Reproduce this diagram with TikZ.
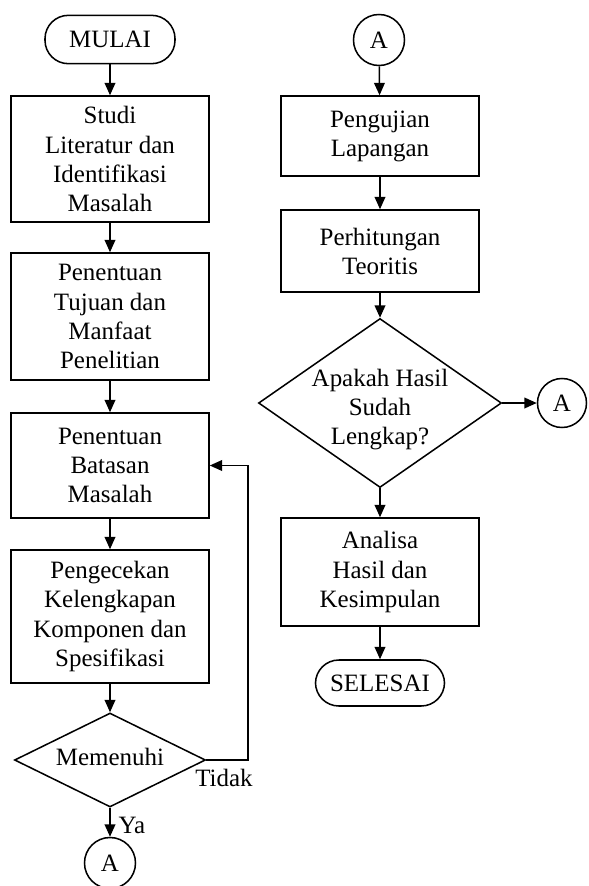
\documentclass[tikz,border=0pt]{standalone}
\usepackage{fontspec}
\setmainfont{Liberation Serif}
\usetikzlibrary{arrows.meta,shapes.geometric}
\tikzset{
  flowarr/.style  = {-{Triangle[length=3.7mm,width=3.2mm]},line width=1.3pt},
  flowtxt/.style  = {font=\fontsize{21.3}{24.8}\selectfont,align=center},
  procbox/.style  = {draw,line width=1.3pt,rectangle,minimum width=5.94cm,inner sep=0pt,flowtxt},
  termbox/.style  = {draw,line width=1.3pt,rectangle,rounded corners=0.7cm,minimum width=3.9cm,minimum height=1.45cm,inner sep=0pt,flowtxt},
  decbox/.style   = {draw,line width=1.3pt,diamond,inner sep=0pt},
  connbox/.style  = {draw,line width=1.3pt,circle,minimum size=1.53cm,inner sep=0pt,flowtxt}
}

\begin{document}
\begin{tikzpicture}[x=0.03cm,y=-0.03cm]
  \useasboundingbox (0,0) rectangle (589,886);
  \node[termbox] (mulai) at (110,39.5) {MULAI};
  \node[procbox,minimum height=3.78cm] (studi) at (110,159) {Studi\\Literatur dan\\Identifikasi\\Masalah};
  \node[procbox,minimum height=3.81cm] (tujuan) at (110,316.5) {Penentuan\\Tujuan dan\\Manfaat\\Penelitian};
  \node[procbox,minimum height=3.15cm] (batasan) at (110,465.5) {Penentuan\\Batasan\\Masalah};
  \node[procbox,minimum height=3.99cm] (cek) at (110,616.5) {Pengecekan\\Kelengkapan\\Komponen dan\\Spesifikasi};
  \node[decbox,minimum width=5.73cm,minimum height=2.82cm,
        label={[flowtxt,yshift=0.1cm]center:Memenuhi}] (memenuhi) at (110,760) {};
  \node[connbox] (abawah) at (110,863) {A};
  \node[flowtxt] (ya) at (132,825) {Ya};
  \node[flowtxt] (tidak) at (224,778) {Tidak};
  \coordinate (balik) at (248,760);

  \node[connbox] (aatas) at (379,40) {A};
  \node[procbox,minimum height=2.4cm] (uji) at (380,136) {Pengujian\\Lapangan};
  \node[procbox,minimum height=2.46cm] (hitung) at (380,251) {Perhitungan\\Teoritis};
  \node[decbox,minimum width=7.29cm,minimum height=5.07cm,
        label={[flowtxt,yshift=-0.2cm]center:Apakah Hasil\\Sudah\\Lengkap?}] (hasil) at (380,403) {};
  \node[connbox,minimum size=1.47cm] (asamping) at (562,403) {A};
  \node[procbox,minimum height=3.24cm] (analisa) at (380,572) {Analisa\\Hasil dan\\Kesimpulan};
  \node[termbox,minimum width=3.87cm,minimum height=1.38cm] (selesai) at (380,683) {SELESAI};

  \draw[flowarr] (mulai) -- (studi);
  \draw[flowarr] (studi) -- (tujuan);
  \draw[flowarr] (tujuan) -- (batasan);
  \draw[flowarr] (batasan) -- (cek);
  \draw[flowarr] (cek) -- (memenuhi);
  \draw[flowarr] (memenuhi) -- (abawah);
  \draw[flowarr] (memenuhi.east) -- (balik) |- (batasan.east);
  \draw[flowarr] (aatas) -- (uji);
  \draw[flowarr] (uji) -- (hitung);
  \draw[flowarr] (hitung) -- (hasil);
  \draw[flowarr] (hasil.east) -- (asamping);
  \draw[flowarr] (hasil) -- (analisa);
  \draw[flowarr] (analisa) -- (selesai);
\end{tikzpicture}
\end{document}
